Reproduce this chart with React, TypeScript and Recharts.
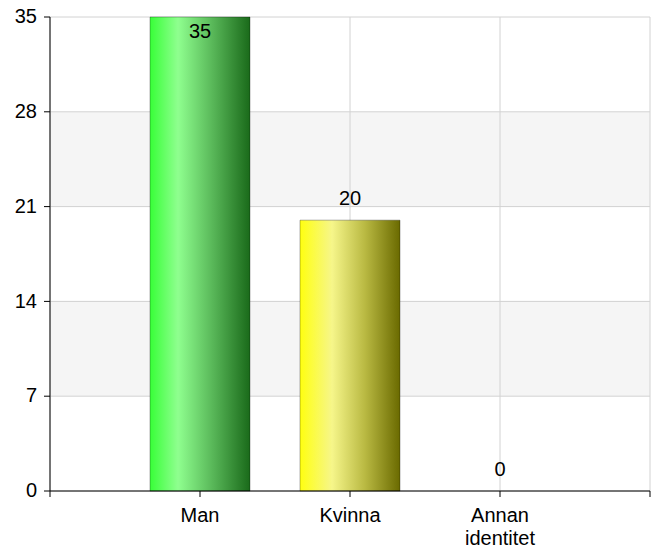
import React from "react";
import {
  Bar,
  BarChart,
  CartesianGrid,
  Cell,
  ReferenceDot,
  XAxis,
  YAxis,
} from "recharts";

const categories = ["Man", "Kvinna", "Annan identitet"];
const values = [35, 20, 0];
const yTicks = [0, 7, 14, 21, 28, 35];
const xTicks = [0, 1, 2, 3, 4];
const barGradients = ["gradGreen", "gradYellow", "gradGreen"];

const data = categories.map((name, i) => ({
  pos: i + 1,
  name,
  value: values[i],
}));

const FONT = "Arial, 'Liberation Sans', sans-serif";
const FONT_SIZE = 20;

// category labels, two lines when the name has a space in it
const CategoryTick = (props: any) => {
  const { x, y, payload } = props;
  const label = categories[payload.value - 1];
  if (!label) return null;
  const lines = label.split(" ");
  return (
    <text
      x={x}
      y={y}
      textAnchor="middle"
      fontFamily={FONT}
      fontSize={FONT_SIZE}
      fill="#000"
    >
      {lines.map((line, i) => (
        <tspan key={i} x={x} dy={i === 0 ? 23 : 23}>
          {line}
        </tspan>
      ))}
    </text>
  );
};

// value label drawn at the bar top: above it, or inside when the bar hits the top
const valueLabel = (value: number) => (props: any) => {
  const { cx, cy } = props;
  const inside = cy < 40;
  return (
    <text
      x={cx}
      y={inside ? cy + 21 : cy - 15}
      textAnchor="middle"
      fontFamily={FONT}
      fontSize={FONT_SIZE}
      fill="#000"
    >
      {value}
    </text>
  );
};

export default function App() {
  return (
    <div style={{ position: "absolute", left: 0, top: 0 }}>
      <BarChart
        width={658}
        height={552}
        data={data}
        margin={{ top: 17, right: 8, left: 0, bottom: 0 }}
      >
        <defs>
          <linearGradient id="gradGreen" x1="0" y1="0" x2="1" y2="0">
            <stop offset="0" stopColor="#38ff38" />
            <stop offset="0.28" stopColor="#8fff8f" />
            <stop offset="0.6" stopColor="#5dbd5d" />
            <stop offset="1" stopColor="#1a6a1a" />
          </linearGradient>
          <linearGradient id="gradYellow" x1="0" y1="0" x2="1" y2="0">
            <stop offset="0" stopColor="#ffff10" />
            <stop offset="0.32" stopColor="#f6f68a" />
            <stop offset="0.65" stopColor="#b9b942" />
            <stop offset="1" stopColor="#6a6a00" />
          </linearGradient>
        </defs>
        <CartesianGrid
          stroke="#d2d2d2"
          horizontalFill={["#ffffff", "#f5f5f5"]}
          fillOpacity={1}
        />
        <XAxis
          dataKey="pos"
          type="number"
          domain={[0, 4]}
          ticks={xTicks}
          interval={0}
          height={61}
          tickSize={6}
          axisLine={{ stroke: "#000" }}
          tickLine={{ stroke: "#000" }}
          tick={<CategoryTick />}
        />
        <YAxis
          domain={[0, 35]}
          ticks={yTicks}
          interval={0}
          width={50}
          tickSize={6}
          tickMargin={7}
          axisLine={{ stroke: "#000" }}
          tickLine={{ stroke: "#000" }}
          tick={{ fontFamily: FONT, fontSize: FONT_SIZE, fill: "#000", dy: -1 }}
        />
        <Bar
          dataKey="value"
          barSize={100}
          isAnimationActive={false}
          stroke="rgba(0,0,0,0.3)"
          strokeWidth={1}
        >
          {data.map((d, i) => (
            <Cell key={d.name} fill={`url(#${barGradients[i]})`} />
          ))}
        </Bar>
        {data.map((d) => (
          <ReferenceDot
            key={d.name}
            x={d.pos}
            y={d.value}
            r={0}
            ifOverflow="visible"
            shape={valueLabel(d.value)}
          />
        ))}
      </BarChart>
    </div>
  );
}
